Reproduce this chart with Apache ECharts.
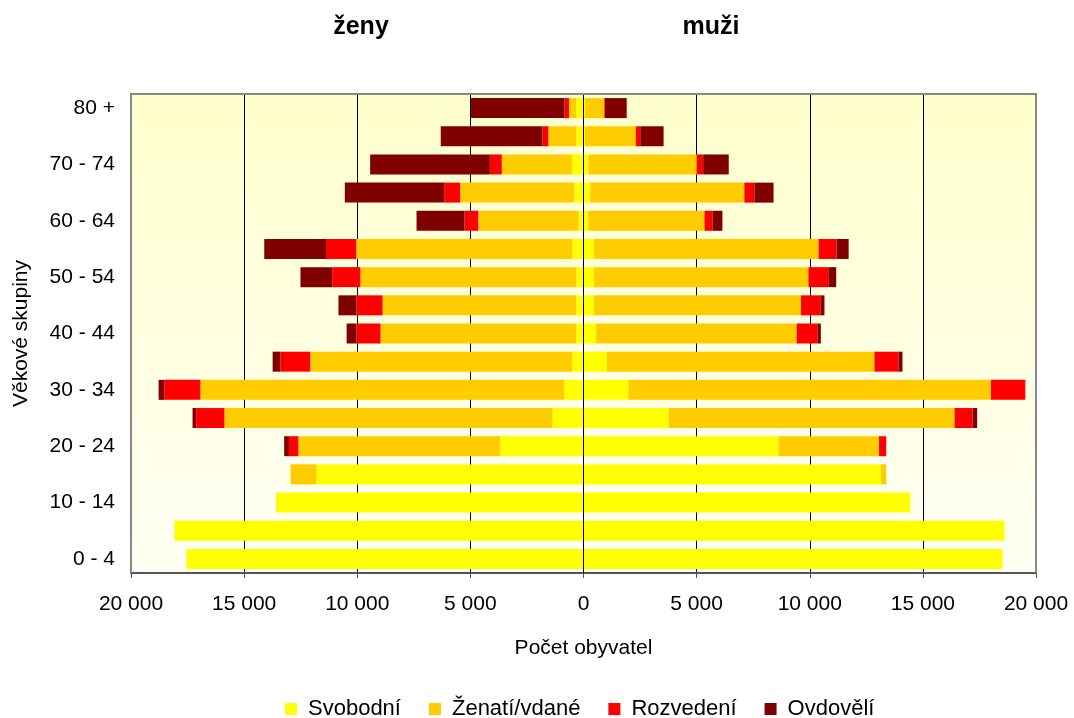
<!DOCTYPE html>
<html>
<head>
<meta charset="utf-8">
<script src="https://cdn.jsdelivr.net/npm/echarts@6/dist/echarts.min.js"></script>
<style>
  html, body { margin: 0; padding: 0; background: #fff; }
  #chart { width: 1074px; height: 718px; }
</style>
</head>
<body>
<div id="chart"></div>
<script>
// age groups, bottom to top
const ageGroups = ["0 - 4", "5 - 9", "10 - 14", "15 - 19", "20 - 24", "25 - 29", "30 - 34", "35 - 39",
  "40 - 44", "45 - 49", "50 - 54", "55 - 59", "60 - 64", "65 - 69", "70 - 74", "75 - 79", "80 +"];

const statusNames = ["Svobodní", "Ženatí/vdané", "Rozvedení", "Ovdovělí"];
const statusColors = ["#FFFF00", "#FFCC00", "#FF0000", "#800000"];

// women (ženy)
const womenSingle   = [17560, 18080, 13590, 11800, 3680, 1370, 850, 500, 320, 320, 320, 500, 220, 410, 510, 320, 320];
const womenMarried  = [0, 0, 0, 1150, 8920, 14500, 16080, 11580, 8650, 8560, 9540, 9540, 4430, 5040, 3100, 1230, 320];
const womenDivorced = [0, 0, 0, 0, 420, 1250, 1600, 1310, 1060, 1150, 1250, 1340, 610, 710, 530, 270, 200];
const womenWidowed  = [0, 0, 0, 0, 210, 160, 250, 350, 440, 800, 1400, 2730, 2120, 4390, 5290, 4490, 4130];

// men (muži)
const menSingle   = [18520, 18610, 14440, 13150, 8620, 3760, 1980, 1030, 560, 470, 470, 470, 210, 300, 220, 60, 70];
const menMarried  = [0, 0, 0, 230, 4440, 12640, 16030, 11830, 8860, 9140, 9470, 9920, 5140, 6810, 4790, 2250, 850];
const menDivorced = [0, 0, 0, 0, 320, 800, 1500, 1060, 920, 880, 880, 800, 350, 440, 280, 200, 30];
const menWidowed  = [0, 0, 0, 0, 0, 200, 20, 180, 150, 160, 350, 530, 440, 850, 1130, 1030, 960];

const xTicks = [-20000, -15000, -10000, -5000, 0, 5000, 10000, 15000, 20000];

const FONT = "Liberation Sans, Arial, sans-serif";

// plot box (px)
const G = { left: 131, top: 94, right: 1036, bottom: 573 };

// thousands with a space, no sign
function fmt(v) {
  return String(Math.abs(v)).replace(/\B(?=(\d{3})+(?!\d))/g, " ");
}

const women = [womenSingle, womenMarried, womenDivorced, womenWidowed];
const men = [menSingle, menMarried, menDivorced, menWidowed];

let series = [];
women.forEach((arr, i) => {
  series.push({
    name: statusNames[i],
    type: "bar",
    stack: "pop",
    barWidth: 20,
    itemStyle: { color: statusColors[i] },
    data: arr.map((v) => -v),
  });
});
men.forEach((arr, i) => {
  series.push({
    name: statusNames[i],
    type: "bar",
    stack: "pop",
    barWidth: 20,
    itemStyle: { color: statusColors[i] },
    data: arr.slice(),
  });
});
// zero line drawn over the bars
series[0].markLine = {
  silent: true,
  symbol: "none",
  label: { show: false },
  lineStyle: { color: "#000", width: 1, type: "solid" },
  data: [{ xAxis: 0 }],
};

const chart = echarts.init(document.getElementById("chart"));
chart.setOption({
  animation: false,
  textStyle: { fontFamily: FONT },
  graphic: [
    { type: "text", x: 361, y: 27, style: { text: "ženy", font: "bold 25px " + FONT, fill: "#000", textAlign: "center", textVerticalAlign: "middle" } },
    { type: "text", x: 711, y: 27, style: { text: "muži", font: "bold 25px " + FONT, fill: "#000", textAlign: "center", textVerticalAlign: "middle" } },
    // grey frame over the edge grid lines
    {
      type: "polyline",
      z: 100,
      silent: true,
      shape: { points: [[G.left, G.bottom], [G.left, G.top], [G.right, G.top], [G.right, G.bottom]] },
      style: { stroke: "#888", lineWidth: 2, fill: null },
    },
  ],
  legend: {
    data: statusNames,
    top: 693,
    left: 280,
    icon: "rect",
    itemWidth: 12,
    itemHeight: 12,
    itemGap: 28,
    textStyle: { fontSize: 22, color: "#000", fontFamily: FONT, padding: [0, 0, 0, 6] },
  },
  grid: {
    left: G.left,
    right: 1074 - G.right,
    top: G.top,
    bottom: 718 - G.bottom,
    show: true,
    borderColor: "#888",
    borderWidth: 2,
    backgroundColor: {
      type: "linear", x: 0, y: 0, x2: 0, y2: 1,
      colorStops: [
        { offset: 0, color: "#FFFFCC" },
        { offset: 1, color: "#FFFFF4" },
      ],
    },
  },
  xAxis: {
    type: "value",
    min: xTicks[0],
    max: xTicks[xTicks.length - 1],
    interval: 5000,
    name: "Počet obyvatel",
    nameLocation: "middle",
    nameGap: 65,
    nameTextStyle: { fontSize: 21, color: "#000", fontFamily: FONT },
    axisLine: { show: true, lineStyle: { color: "#555", width: 2 } },
    axisTick: { show: true, length: 5, lineStyle: { color: "#555" } },
    axisLabel: { fontSize: 21, color: "#000", margin: 21, formatter: fmt, fontFamily: FONT },
    splitLine: { show: true, lineStyle: { color: "#000", width: 1 } },
  },
  yAxis: {
    type: "category",
    data: ageGroups,
    name: "Věkové skupiny",
    nameLocation: "middle",
    nameGap: 99,
    nameTextStyle: { fontSize: 21, color: "#000", fontFamily: FONT },
    axisLine: { show: false },
    axisTick: { show: false },
    axisLabel: { interval: 1, fontSize: 21, color: "#000", margin: 16, fontFamily: FONT },
    splitLine: { show: false },
  },
  series: series,
});
</script>
</body>
</html>
